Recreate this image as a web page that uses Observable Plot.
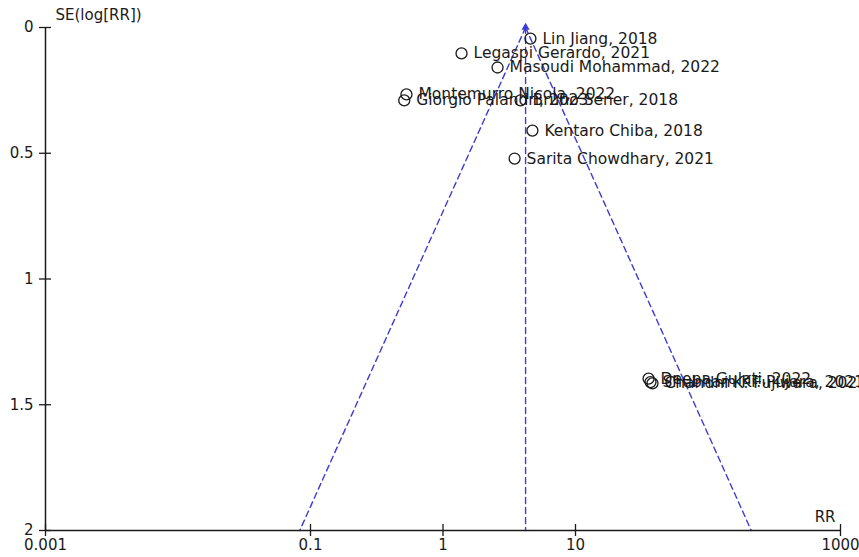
<!DOCTYPE html>
<html>
<head>
<meta charset="utf-8">
<script src="https://cdn.jsdelivr.net/npm/d3@7"></script>
<script src="https://cdn.jsdelivr.net/npm/@observablehq/plot@0.6"></script>
<style>
  html, body { margin: 0; padding: 0; background: #fff; }
  #chart { width: 859px; height: 557px; overflow: hidden; }
</style>
</head>
<body>
<div id="chart"></div>
<script>
// Studies (RR and SE(log RR))
const studies = [
  "Lin Jiang, 2018",
  "Legaspi Gerardo, 2021",
  "Masoudi Mohammad, 2022",
  "Montemurro Nicola, 2022",
  "Giorgio Palandri, 2023",
  "Bruno Sener, 2018",
  "Kentaro Chiba, 2018",
  "Sarita Chowdhary, 2021",
  "Deepa Gulati, 2022",
  "Shubham Kr. Pujara, 2021",
  "Chandni K. Fujiwara, 2022"
];
const rrValues = [4.57, 1.38, 2.58, 0.53, 0.51, 3.85, 4.73, 3.47, 35.6, 36.8, 38.1];
const seValues = [0.044, 0.103, 0.159, 0.266, 0.29, 0.29, 0.41, 0.521, 1.396, 1.41, 1.415];

// Pooled estimate and 95% pseudo-confidence limits at SE = 0 and SE = 2
const pooledRR = 4.2;
const funnelSE = [0, 2];
const funnelLower = [4.2, 0.083];
const funnelUpper = [4.2, 212];

// Axis ticks
const xTicks = [0.001, 0.1, 1, 10, 1000];
const xTickLabels = ["0.001", "0.1", "1", "10", "1000"];
const yTicks = [0, 0.5, 1, 1.5, 2];
const yTickLabels = ["0", "0.5", "1", "1.5", "2"];

const points = studies.map((s, i) => ({study: s, rr: rrValues[i], se: seValues[i]}));
const lower = funnelSE.map((s, i) => ({rr: funnelLower[i], se: s}));
const upper = funnelSE.map((s, i) => ({rr: funnelUpper[i], se: s}));
const center = funnelSE.map(s => ({rr: pooledRR, se: s}));

const blue = "#3b3bd8";
const ink = "#1a1a1a";

const chart = Plot.plot({
  width: 859,
  height: 557,
  marginLeft: 45,
  marginRight: 19,
  marginTop: 27,
  marginBottom: 27,
  style: {fontFamily: "'DejaVu Sans', sans-serif", fontSize: "15px", background: "#fff", color: ink, overflow: "visible"},
  x: {type: "log", domain: [0.001, 1000], axis: null},
  y: {domain: [0, 2], reverse: true, axis: null},
  marks: [
    // funnel
    Plot.line(lower, {x: "rr", y: "se", stroke: blue, strokeWidth: 1.4, strokeDasharray: "6,4"}),
    Plot.line(upper, {x: "rr", y: "se", stroke: blue, strokeWidth: 1.4, strokeDasharray: "6,4"}),
    Plot.line(center, {x: "rr", y: "se", stroke: blue, strokeWidth: 1.4, strokeDasharray: "6,4"}),
    Plot.dot([{rr: pooledRR, se: 0}], {x: "rr", y: "se", symbol: "triangle", r: 3, fill: blue, stroke: "none"}),
    // axes lines
    Plot.ruleX([0.001], {stroke: ink, strokeWidth: 1.5}),
    Plot.ruleY([2], {stroke: ink, strokeWidth: 1.5}),
    Plot.axisY(yTicks, {anchor: "left", tickSize: 12, dx: 6, tickPadding: 6, strokeWidth: 1.3, stroke: ink, fill: ink,
      tickFormat: (d) => yTickLabels[yTicks.indexOf(d)], label: null}),
    Plot.axisX(xTicks, {anchor: "bottom", tickSize: 12, dy: -6, tickPadding: 3, strokeWidth: 1.3, stroke: ink, fill: ink,
      tickFormat: (d) => xTickLabels[xTicks.indexOf(d)], label: null}),
    Plot.text(["SE(log[RR])"], {frameAnchor: "top-left", dx: 10, dy: -12, lineAnchor: "middle", textAnchor: "start", fill: ink}),
    Plot.text(["RR"], {frameAnchor: "bottom-right", dx: -5, dy: -13, lineAnchor: "middle", textAnchor: "end", fill: ink}),
    // studies
    Plot.dot(points, {x: "rr", y: "se", r: 5.5, stroke: ink, strokeWidth: 1.3, fill: "none"}),
    Plot.text(points, {x: "rr", y: "se", text: "study", dx: 12, textAnchor: "start", lineAnchor: "middle", fill: ink, fontSize: 15.5})
  ]
});
document.getElementById("chart").appendChild(chart);
</script>
</body>
</html>
